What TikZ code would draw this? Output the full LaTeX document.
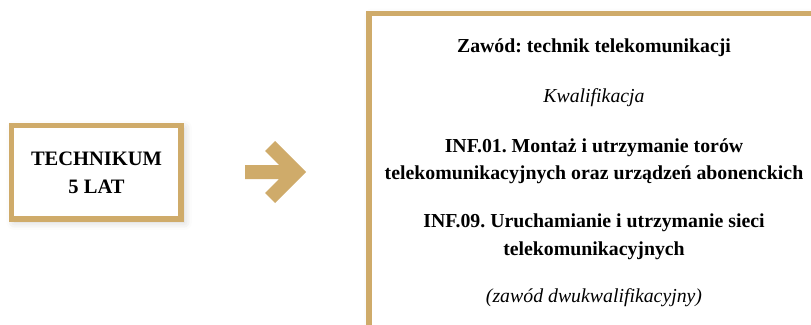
\documentclass[tikz,border=0pt]{standalone}
\usepackage{fontspec}
\setmainfont{Liberation Serif}
\usetikzlibrary{shadows.blur}
\definecolor{gold}{RGB}{207,171,106}
\tikzset{
  goldbox/.style={draw=gold, line width=5.5pt, fill=white,
    blur shadow={shadow xshift=3pt, shadow yshift=-3pt, shadow blur radius=8pt, shadow opacity=20}},
  boldtxt/.style={font=\fontsize{19.8}{27.5}\selectfont\bfseries, align=center, inner sep=0pt},
  itxt/.style={font=\fontsize{19.8}{27.5}\selectfont\itshape, align=center, inner sep=0pt},
  lefttxt/.style={font=\fontsize{20.5}{28.5}\selectfont\bfseries, align=center, inner sep=0pt}
}
\begin{document}
\frenchspacing
\begin{tikzpicture}[x=1pt,y=-1pt]
\useasboundingbox (0,0) rectangle (811,324);
\clip (0,0) rectangle (811,324);
% right box
\path[goldbox] (369,13.5) rectangle (840,345);
% left box
\path[goldbox] (11.5,125.5) rectangle (181,219);
\node[lefttxt] (tech) at (96.5,173) {TECHNIKUM\\5 LAT};
% arrow
\fill[gold] (245,165) -- (279,165) -- (265,151) -- (275,141) -- (306,172)
  -- (275,203) -- (265,193) -- (279,179) -- (245,179) -- cycle;
% texts
\node[boldtxt] (zawod) at (594,47.5) {Zawód: technik telekomunikacji};
\node[itxt] (kwal) at (594,97.5) {Kwalifikacja};
\node[boldtxt] (inf01) at (594,161.5) {INF.01. Montaż i utrzymanie torów\\telekomunikacyjnych oraz urządzeń abonenckich};
\node[boldtxt] (inf09) at (594,237) {INF.09. Uruchamianie i utrzymanie sieci\\telekomunikacyjnych};
\node[itxt] (dwu) at (594,297.5) {(zawód dwukwalifikacyjny)};
\end{tikzpicture}
\end{document}
